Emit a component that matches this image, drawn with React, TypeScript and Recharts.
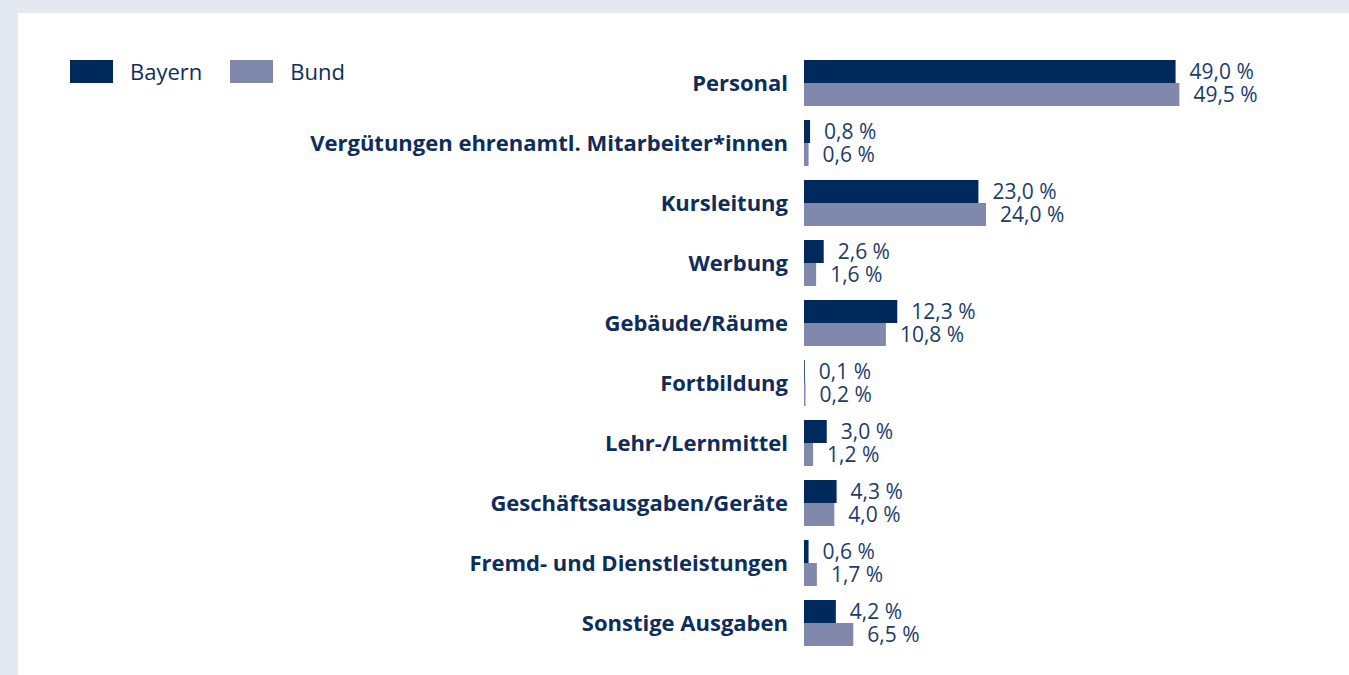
import React from "react";
import { BarChart, Bar, XAxis, YAxis, LabelList } from "recharts";

const categories = [
  "Personal",
  "Vergütungen ehrenamtl. Mitarbeiter*innen",
  "Kursleitung",
  "Werbung",
  "Gebäude/Räume",
  "Fortbildung",
  "Lehr-/Lernmittel",
  "Geschäftsausgaben/Geräte",
  "Fremd- und Dienstleistungen",
  "Sonstige Ausgaben",
];

const bayern = [49.0, 0.8, 23.0, 2.6, 12.3, 0.1, 3.0, 4.3, 0.6, 4.2];
const bund = [49.5, 0.6, 24.0, 1.6, 10.8, 0.2, 1.2, 4.0, 1.7, 6.5];

const seriesNames = ["Bayern", "Bund"];

const BAYERN_COLOR = "#002a5c";
const BUND_COLOR = "#8089ab";
const TEXT_COLOR = "#0e2d5c";
const VALUE_COLOR = "#1c3c6c";
const FONT = "'Open Sans', 'Noto Sans', sans-serif";

const data = categories.map((name, i) => ({ name, bayern: bayern[i], bund: bund[i] }));

const fmt = (v: unknown) => `${Number(v).toFixed(1).replace(".", ",")} %`;

function LegendBox() {
  const colors = [BAYERN_COLOR, BUND_COLOR];
  return (
    <div style={{ position: "absolute", left: 70, top: 60, height: 23, display: "flex", alignItems: "center", fontFamily: FONT }}>
      {seriesNames.map((label, i) => (
        <div key={label} style={{ display: "flex", alignItems: "center", marginRight: 28 }}>
          <div style={{ width: 43, height: 23, background: colors[i] }} />
          <span style={{ marginLeft: 17, fontSize: 22, color: TEXT_COLOR, lineHeight: "23px" }}>{label}</span>
        </div>
      ))}
    </div>
  );
}

export default function App() {
  return (
    <div style={{ position: "absolute", left: 0, top: 0, width: 1349, height: 675, background: "#e4e8f0", overflow: "hidden" }}>
      <div style={{ position: "absolute", left: 18, top: 13, width: 1331, height: 662, background: "#ffffff" }} />
      <div style={{ position: "absolute", left: 0, top: 0 }}>
        <BarChart
          width={1349}
          height={675}
          data={data}
          layout="vertical"
          margin={{ top: 53, right: 90, bottom: 22, left: 0 }}
          barCategoryGap={7}
          barGap={0}
        >
          <XAxis type="number" domain={[0, 60]} hide />
          <YAxis
            type="category"
            dataKey="name"
            width={804}
            axisLine={false}
            tickLine={false}
            tickSize={0}
            tickMargin={16}
            interval={0}
            tick={{ fill: TEXT_COLOR, fontSize: 22, fontWeight: 700, fontFamily: FONT }}
          />
          <Bar dataKey="bayern" name={seriesNames[0]} fill={BAYERN_COLOR} isAnimationActive={false}>
            <LabelList
              dataKey="bayern"
              position="right"
              offset={14}
              formatter={fmt}
              style={{ fill: VALUE_COLOR, fontSize: 21, fontFamily: FONT }}
            />
          </Bar>
          <Bar dataKey="bund" name={seriesNames[1]} fill={BUND_COLOR} isAnimationActive={false}>
            <LabelList
              dataKey="bund"
              position="right"
              offset={14}
              formatter={fmt}
              style={{ fill: VALUE_COLOR, fontSize: 21, fontFamily: FONT }}
            />
          </Bar>
        </BarChart>
      </div>
      <LegendBox />
    </div>
  );
}
